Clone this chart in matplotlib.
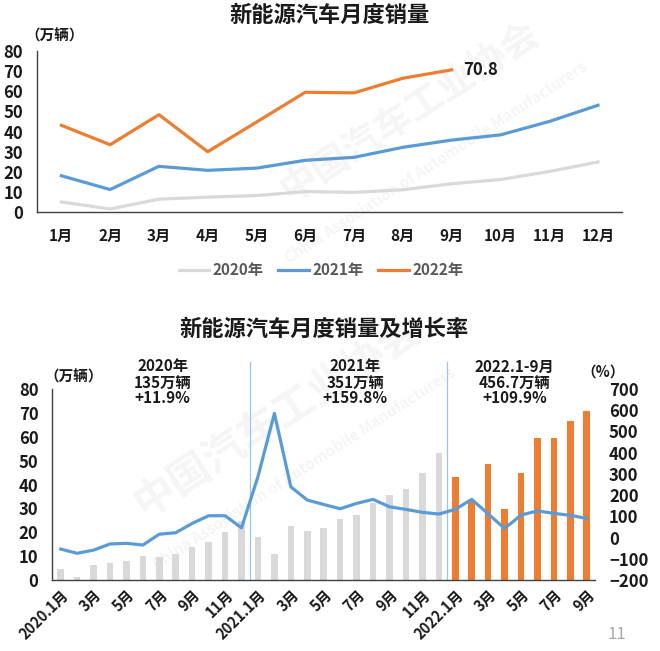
import numpy as np
import matplotlib.pyplot as plt
from matplotlib import transforms

plt.rcParams['font.family'] = ['Noto Sans CJK SC', 'DejaVu Sans']
plt.rcParams['font.weight'] = 'bold'
plt.rcParams['axes.titleweight'] = 'bold'

#data - monthly NEV sales (10k units) and yoy growth (%)
months = ['1月', '2月', '3月', '4月', '5月', '6月', '7月', '8月', '9月', '10月', '11月', '12月']
sales_2020 = [4.8, 1.3, 6.2, 7.2, 8.0, 10.0, 9.6, 10.9, 13.9, 16.0, 20.0, 24.8]
sales_2021 = [17.9, 11.0, 22.6, 20.6, 21.7, 25.6, 27.1, 32.1, 35.7, 38.3, 45.0, 53.1]
sales_2022 = [43.1, 33.4, 48.4, 29.9, 44.7, 59.6, 59.3, 66.6, 70.8]

growth_2020 = [-54, -74, -59, -30, -27, -35, 16, 23, 67, 103, 103, 46]
growth_2021 = [287, 585, 239, 177, 156, 136, 161, 180, 145, 133, 119, 111]
growth_2022 = [133, 180, 112, 43, 106, 126, 114, 105, 90]

bottom_ticklabels = ['2020.1月', '3月', '5月', '7月', '9月', '11月',
                     '2021.1月', '3月', '5月', '7月', '9月', '11月',
                     '2022.1月', '3月', '5月', '7月', '9月']
notes = ['2020年\n135万辆\n+11.9%', '2021年\n351万辆\n+159.8%', '2022.1-9月\n456.7万辆\n+109.9%']
note_x = [6.2, 17.9, 27.6]

gray = '#d9d9d9'
blue = '#5b9bd5'
orange = '#ed7d31'
dark = '#1a1a1a'
spine_c = '#404040'

fig = plt.figure(figsize=(6.6, 6.51), dpi=100)

#faint watermark
wm = dict(color='#f5f5f5', rotation=33, ha='center', va='center', zorder=-5, weight='bold')
fig.text(0.62, 0.83, '中国汽车工业协会', fontsize=27, **wm)
fig.text(0.66, 0.75, 'China Association of Automobile Manufacturers', fontsize=11, **wm)
fig.text(0.42, 0.36, '中国汽车工业协会', fontsize=30, **wm)
fig.text(0.46, 0.28, 'China Association of Automobile Manufacturers', fontsize=11, **wm)

#top chart
ax1 = fig.add_axes([0.056, 0.675, 0.887, 0.246])
ax1.patch.set_alpha(0)
x = np.arange(12)
ax1.plot(x, sales_2020, color=gray, lw=2.3, label='2020年')
ax1.plot(x, sales_2021, color=blue, lw=2.3, label='2021年')
ax1.plot(np.arange(len(sales_2022)), sales_2022, color=orange, lw=2.3, label='2022年')
ax1.annotate('70.8', (8, sales_2022[-1]), xytext=(8, 0), textcoords='offset points',
             va='center', ha='left', fontsize=12, color=dark, fontweight='heavy')
ax1.set_xlim(-0.5, 11.5)
ax1.set_ylim(0, 80)
ax1.set_yticks(np.arange(0, 81, 10))
ax1.set_xticks(x)
ax1.set_xticklabels(months)
ax1.tick_params(axis='both', length=0, labelsize=11, colors=dark)
ax1.tick_params(axis='y', pad=10, labelsize=12)
ax1.tick_params(axis='x', pad=12)
for s in ['top', 'right']:
    ax1.spines[s].set_visible(False)
for s in ['left', 'bottom']:
    ax1.spines[s].set_color(spine_c)
    ax1.spines[s].set_linewidth(1.0)
ax1.set_title('新能源汽车月度销量', fontsize=16, color=dark, pad=21)
fig.text(0.083, 0.946, '（万辆）', fontsize=10.5, color=dark, ha='center', va='center')
leg = ax1.legend(loc='upper center', bbox_to_anchor=(0.485, -0.23), ncol=3, frameon=False,
                 fontsize=11, handlelength=2.0, handletextpad=0.2, columnspacing=1.0)
for t in leg.get_texts():
    t.set_color('#595959')

#bottom chart
ax2 = fig.add_axes([0.0795, 0.109, 0.822, 0.2934])
ax2.patch.set_alpha(0)
sales_all = sales_2020 + sales_2021 + sales_2022
growth_all = growth_2020 + growth_2021 + growth_2022
xb = np.arange(len(sales_all))
bar_colors = [gray] * 24 + [orange] * 9
ax2.bar(xb, sales_all, width=0.4, color=bar_colors)
ax2.set_xlim(-0.5, len(sales_all) - 0.5)
ax2.set_ylim(0, 80)
ax2.set_yticks(np.arange(0, 81, 10))
ax2.set_xticks(xb[::2])
ax2.set_xticklabels(bottom_ticklabels, rotation=45, ha='right', rotation_mode='anchor')
ax2.tick_params(axis='both', length=0, labelsize=10.5, colors=dark)
ax2.tick_params(axis='y', pad=10, labelsize=12)
ax2.tick_params(axis='x', pad=5)
for s in ['top', 'right']:
    ax2.spines[s].set_visible(False)
for s in ['left', 'bottom']:
    ax2.spines[s].set_color(spine_c)
    ax2.spines[s].set_linewidth(1.0)
for xv in [11.5, 23.5]:
    ax2.axvline(xv, ymin=0, ymax=1.14, color='#9dc3e6', lw=0.9, clip_on=False)

ax3 = ax2.twinx()
ax3.plot(xb, growth_all, color=blue, lw=2.3)
ax3.set_ylim(-200, 700)
ax3.set_yticks(np.arange(-200, 701, 100))
ax3.tick_params(axis='y', length=0, labelsize=12, colors=dark, pad=10)
for s in ['top', 'right', 'left', 'bottom']:
    ax3.spines[s].set_visible(False)

trans = transforms.blended_transform_factory(ax2.transData, ax2.transAxes)
for txt, xv in zip(notes, note_x):
    ax2.text(xv, 1.16, txt, transform=trans, ha='center', va='top', fontsize=11,
             color=dark, linespacing=1.0)

ax2.set_title('新能源汽车月度销量及增长率', fontsize=16, color=dark, pad=38)
fig.text(0.112, 0.421, '（万辆）', fontsize=10.5, color=dark, ha='center', va='center')
fig.text(0.913, 0.430, '（%）', fontsize=10.5, color=dark, ha='center', va='center')
fig.text(0.935, 0.012, '11', fontsize=12, color='#a6a6a6', ha='center', va='bottom', weight='normal')

fig.savefig('out.png', dpi=100)
